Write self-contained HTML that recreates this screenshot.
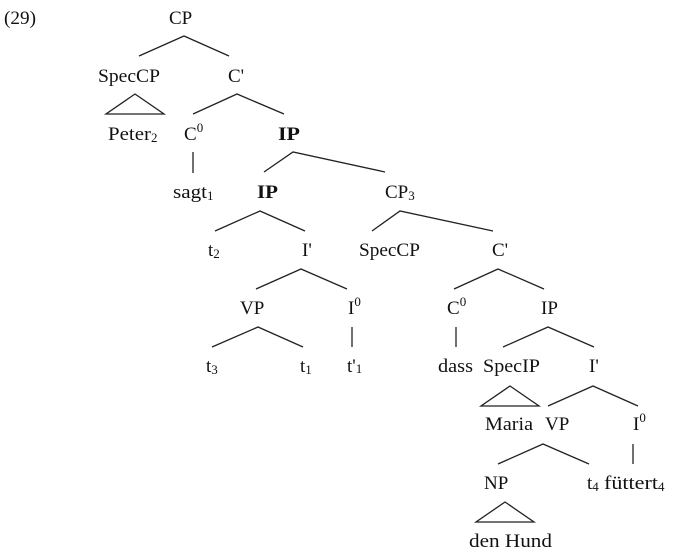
<!DOCTYPE html>
<html>
<head>
<meta charset="utf-8">
<style>
  html, body { margin:0; padding:0; background:#fff; }
  svg { display:block; }
  text { font-family: "Liberation Serif", "DejaVu Serif", serif; font-size:19px; fill:#111; }
  .b { font-weight:bold; }
  line, polyline, polygon { stroke:#222; stroke-width:1.3; fill:none; }
</style>
</head>
<body>
<svg width="675" height="553" viewBox="0 0 675 553" xmlns="http://www.w3.org/2000/svg">
  <!-- Row 0 -->
  <text x="4" y="24" textLength="32" lengthAdjust="spacingAndGlyphs">(29)</text>
  <text x="169" y="24">CP</text>
  <polyline points="139,56 184,36 229,56"/>

  <!-- Row 1 -->
  <text x="98" y="82" textLength="62" lengthAdjust="spacingAndGlyphs">SpecCP</text>
  <text x="228" y="82">C'</text>
  <polygon points="135,94 106,114 164,114"/>
  <polyline points="193,114 237,94 284,114"/>

  <!-- Row 2 -->
  <text x="108" y="140"><tspan textLength="43" lengthAdjust="spacingAndGlyphs">Peter</tspan><tspan font-size="13" dy="2">2</tspan></text>
  <text x="184" y="140">C<tspan font-size="13" dy="-8">0</tspan></text>
  <text class="b" x="278" y="140" textLength="22" lengthAdjust="spacingAndGlyphs">IP</text>
  <line x1="193" y1="152" x2="193" y2="173"/>
  <polyline points="264,172 293,152 385,172"/>

  <!-- Row 3 -->
  <text x="173" y="198"><tspan textLength="34" lengthAdjust="spacingAndGlyphs">sagt</tspan><tspan font-size="13" dy="2">1</tspan></text>
  <text class="b" x="257" y="198" textLength="21" lengthAdjust="spacingAndGlyphs">IP</text>
  <text x="385" y="198">CP<tspan font-size="13" dy="2">3</tspan></text>
  <polyline points="215,231 260,211 305,231"/>
  <polyline points="372,231 400,211 493,231"/>

  <!-- Row 4 -->
  <text x="208" y="256">t<tspan font-size="13" dy="2">2</tspan></text>
  <text x="302" y="256">I'</text>
  <text x="359" y="256" textLength="61" lengthAdjust="spacingAndGlyphs">SpecCP</text>
  <text x="492" y="256">C'</text>
  <polyline points="256,289 301,269 347,289"/>
  <polyline points="454,289 498,269 544,289"/>

  <!-- Row 5 -->
  <text x="240" y="314">VP</text>
  <text x="348" y="314">I<tspan font-size="13" dy="-8">0</tspan></text>
  <text x="447" y="314">C<tspan font-size="13" dy="-8">0</tspan></text>
  <text x="541" y="314">IP</text>
  <polyline points="212,347 258,327 303,347"/>
  <line x1="352" y1="327" x2="352" y2="347"/>
  <line x1="456" y1="327" x2="456" y2="347"/>
  <polyline points="503,347 548,327 594,347"/>

  <!-- Row 6 -->
  <text x="206" y="372">t<tspan font-size="13" dy="2">3</tspan></text>
  <text x="300" y="372">t<tspan font-size="13" dy="2">1</tspan></text>
  <text x="347" y="372">t'<tspan font-size="13" dy="1">1</tspan></text>
  <text x="438" y="372" textLength="35" lengthAdjust="spacingAndGlyphs">dass</text>
  <text x="483" y="372" textLength="57" lengthAdjust="spacingAndGlyphs">SpecIP</text>
  <text x="589" y="372">I'</text>
  <polygon points="510,386 481,406 539,406"/>
  <polyline points="548,406 593,386 638,406"/>

  <!-- Row 7 -->
  <text x="485" y="430" textLength="48" lengthAdjust="spacingAndGlyphs">Maria</text>
  <text x="545" y="430">VP</text>
  <text x="633" y="430">I<tspan font-size="13" dy="-8">0</tspan></text>
  <polyline points="498,464 543,444 589,464"/>
  <line x1="633" y1="444" x2="633" y2="464"/>

  <!-- Row 8 -->
  <text x="484" y="489">NP</text>
  <text x="587" y="489">t<tspan font-size="13" dy="2">4</tspan></text>
  <text x="604" y="489"><tspan textLength="54" lengthAdjust="spacingAndGlyphs">füttert</tspan><tspan font-size="13" dy="2">4</tspan></text>
  <polygon points="505,502 476,522 534,522"/>

  <!-- Row 9 -->
  <text x="469" y="547" textLength="83" lengthAdjust="spacingAndGlyphs">den Hund</text>
</svg>
</body>
</html>
